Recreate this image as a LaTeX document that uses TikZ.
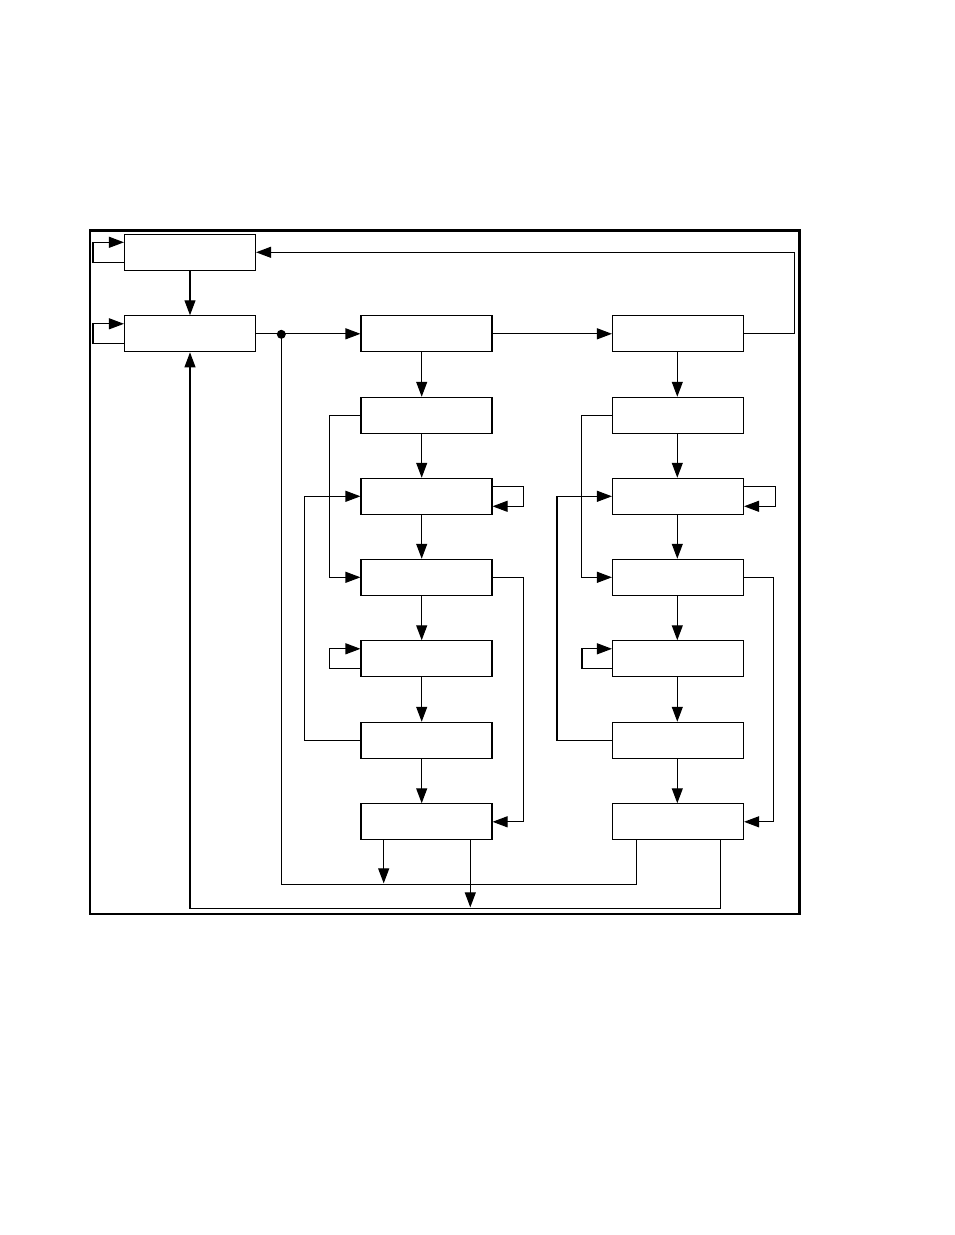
\documentclass[tikz,border=0pt]{standalone}
\usetikzlibrary{arrows.meta}
\begin{document}
\begin{tikzpicture}[x=1pt,y=-1pt,
  box/.style={draw, line width=1.1pt, minimum width=131pt, minimum height=36pt, inner sep=0pt},
  conn/.style={line width=1.1pt},
  arr/.style={conn, -{Triangle[length=15pt,width=11pt]}},
  frame/.style={line width=2.6pt}]
\useasboundingbox (0,0) rectangle (954,1235);
\draw[frame] (90,230.7) rectangle (799.5,914);
% left boxes
\node[box] (A) at (190,252.3) {};
\node[box] (B) at (190,333.8) {};
% columns
\foreach \n/\y in {1/333.8,2/415.3,3/496.3,4/577.3,5/658.8,6/740.3,7/821.8}{
  \node[box] (m\n) at (426.5,\y) {};
  \node[box] (r\n) at (678,\y) {};
}
\node[circle, fill, inner sep=0pt, minimum size=9pt] (dot) at (281.3,334.3) {};
% left loops
\draw[arr] ([yshift=-10pt]A.west) -- ++(-31,0) |- ([yshift=10pt]A.west);
\draw[arr] ([yshift=-10pt]B.west) -- ++(-31,0) |- ([yshift=10pt]B.west);
\draw[arr] (A) -- (B);
\draw[arr] (B.east) -- (m1.west);
\draw[arr] (m1.east) -- (r1.west);
\draw[arr] (r1.east) -- ++(50.6,0) |- (A.east);
% column down arrows
\foreach \i/\j in {1/2,2/3,3/4,4/5,5/6,6/7}{
  \draw[arr] ([xshift=-4.8pt]m\i.south) -- ([xshift=-4.8pt]m\j.north);
  \draw[arr] ([xshift=-0.7pt]r\i.south) -- ([xshift=-0.7pt]r\j.north);
}
% middle column side connectors
\draw[arr] (m2.west) -- ++(-31,0) |- (m4.west);
\draw[arr] (m6.west) -- ++(-56,0) |- (m3.west);
\draw[arr] ([yshift=10pt]m3.east) -- ++(30.5,0) |- ([yshift=-10pt]m3.east);
\draw[arr] (m4.east) -- ++(30.5,0) |- (m7.east);
\draw[arr] ([yshift=-10pt]m5.west) -- ++(-31,0) |- ([yshift=10pt]m5.west);
% right column side connectors
\draw[arr] (r2.west) -- ++(-30.6,0) |- (r4.west);
\draw[arr] (r6.west) -- ++(-55,0) |- (r3.west);
\draw[arr] ([yshift=10pt]r3.east) -- ++(31,0) |- ([yshift=-10pt]r3.east);
\draw[arr] (r4.east) -- ++(29.6,0) |- (r7.east);
\draw[arr] ([yshift=-10pt]r5.west) -- ++(-30,0) |- ([yshift=10pt]r5.west);
% bottom returns
\draw[conn] ([xshift=-41.3pt]r7.south) -- ++(0,44) -| (dot.center);
\draw[arr] ([xshift=-42.8pt]m7.south) -- ++(0,43);
\draw[arr] ([xshift=42.3pt]r7.south) -- ++(0,68) -| (B.south);
\draw[arr] ([xshift=43.8pt]m7.south) -- ++(0,67);
\end{tikzpicture}
\end{document}
